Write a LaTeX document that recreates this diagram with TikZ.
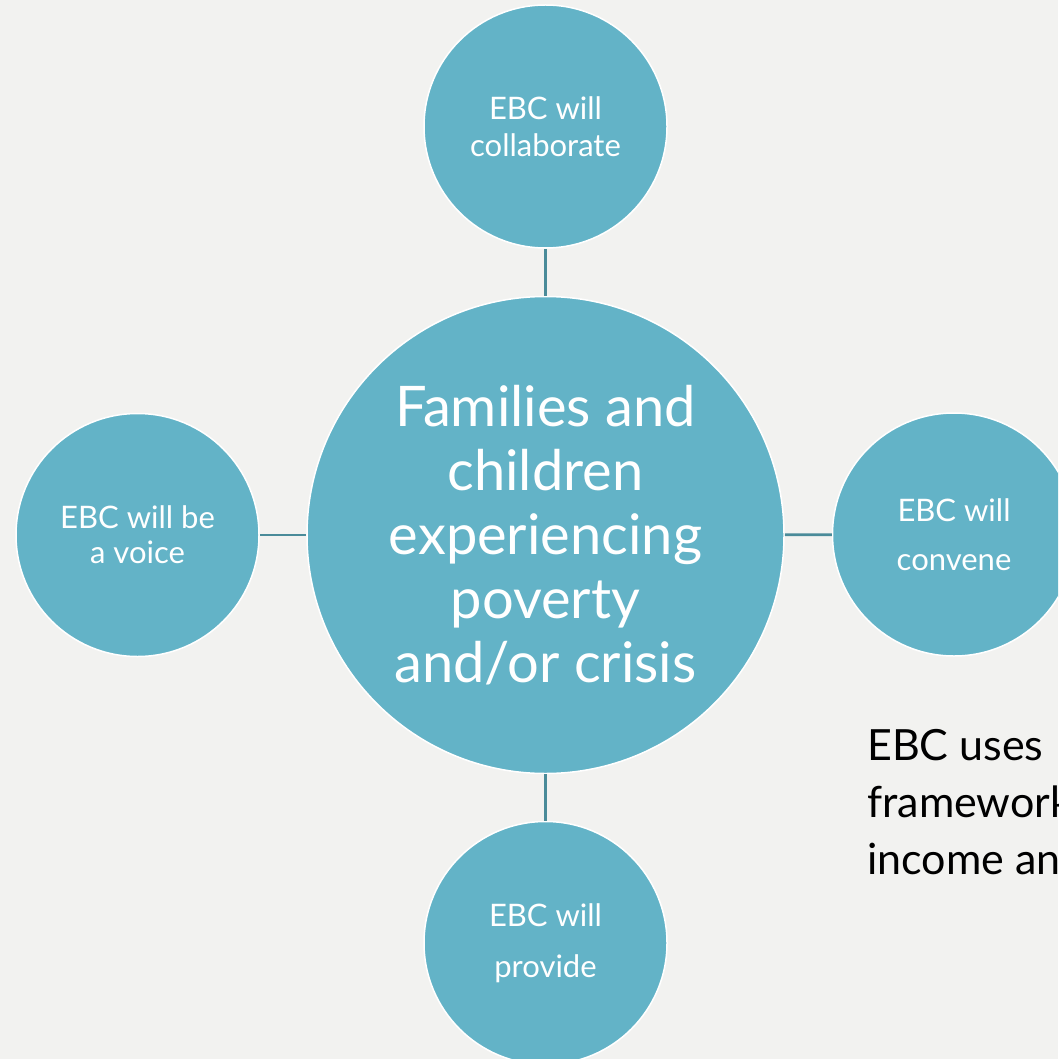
\documentclass[tikz,border=0pt]{standalone}
\usepackage{fontspec}
\setmainfont{Lato}
\definecolor{bg}{HTML}{F2F2F0}
\definecolor{bubble}{HTML}{63B3C7}
\definecolor{link}{HTML}{4A8B99}
\tikzset{
  bubble/.style={circle, fill=bubble, draw=white, line width=1.5pt, inner sep=0pt, text=white, align=center},
  small/.style={bubble, minimum size=243pt},
  big/.style={bubble, minimum size=477pt},
  conn/.style={draw=link, line width=2.8pt},
}
\begin{document}
\begin{tikzpicture}[x=1pt,y=-1pt]
\clip (0,0) rectangle (1058,1059);
\fill[bg] (0,0) rectangle (1058,1059);
\node[big, font=\fontsize{56}{64}\selectfont] (hub) at (545.5,535) {Families and\\children\\experiencing\\poverty\\and/or crisis};
\node[small, font=\fontsize{31}{37}\selectfont] (top) at (545.5,126.5) {EBC will\\collaborate};
\node[small, font=\fontsize{31}{35}\selectfont] (left) at (137.5,535) {EBC will be\\a voice};
\node[small, font=\fontsize{31}{49}\selectfont] (right) at (954,534.5) {EBC will\\convene};
\node[small, font=\fontsize{31}{51}\selectfont] (bottom) at (545.5,943) {EBC will\\provide};
\draw[conn] (top) -- (hub);
\draw[conn] (hub) -- (bottom);
\draw[conn] (left) -- (hub);
\draw[conn] (hub) -- (right);
\node[anchor=base west, inner sep=0pt, font=\fontsize{43}{57}\selectfont] (note1) at (867,760.5) {EBC uses};
\node[anchor=base west, inner sep=0pt, font=\fontsize{43}{57}\selectfont] (note2) at (867,817) {framework};
\node[anchor=base west, inner sep=0pt, font=\fontsize{43}{57}\selectfont] (note3) at (867,874) {income and};
\end{tikzpicture}
\end{document}
